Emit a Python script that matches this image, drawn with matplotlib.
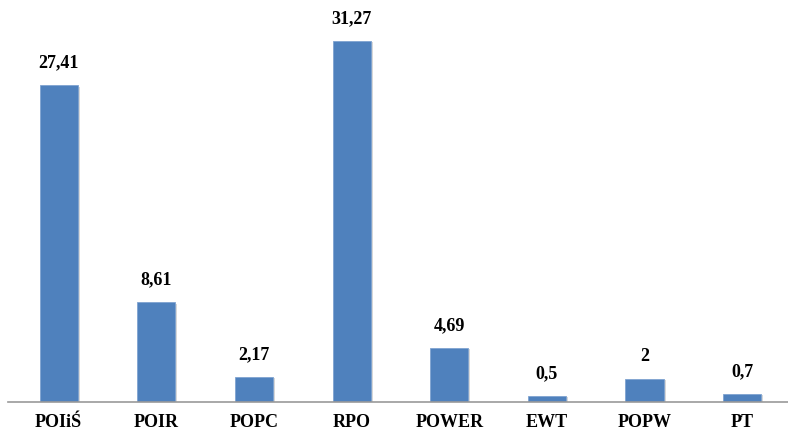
import matplotlib.pyplot as plt
import matplotlib.patheffects as pe

categories = ["POIiŚ", "POIR", "POPC", "RPO", "POWER", "EWT", "POPW", "PT"]
values = [27.41, 8.61, 2.17, 31.27, 4.69, 0.5, 2, 0.7]
value_labels = ["27,41", "8,61", "2,17", "31,27", "4,69", "0,5", "2", "0,7"]

plt.rcParams['font.family'] = ['Liberation Serif', 'DejaVu Serif']

fig = plt.figure(figsize=(7.88, 4.32), dpi=100)
ax = fig.add_axes([0.01, 0.07, 1.0, 0.935])

bars = ax.bar(range(len(categories)), values, width=0.39, color='#4F81BD',
              edgecolor='#7FA3D0', linewidth=0.6, zorder=2,
              path_effects=[pe.SimplePatchShadow(offset=(1.5, -1), shadow_rgbFace='#b0b0b0', alpha=0.5),
                            pe.Normal()])

for b, lab in zip(bars, value_labels):
    ax.annotate(lab, (b.get_x() + b.get_width() / 2, b.get_height()),
                xytext=(0, 10), textcoords='offset points',
                ha='center', va='bottom', fontsize=13, fontweight='bold')

ax.set_xlim(-0.52, len(categories) - 0.45)
ax.set_ylim(0, 35)
ax.set_xticks(range(len(categories)))
ax.set_xticklabels(categories, fontsize=13, fontweight='bold')
ax.tick_params(axis='x', length=0, pad=9)
ax.set_yticks([])
for s in ['top', 'right', 'left']:
    ax.spines[s].set_visible(False)
ax.spines['bottom'].set_color('#999999')
ax.spines['bottom'].set_linewidth(1.2)

fig.savefig("out.png", dpi=100)
